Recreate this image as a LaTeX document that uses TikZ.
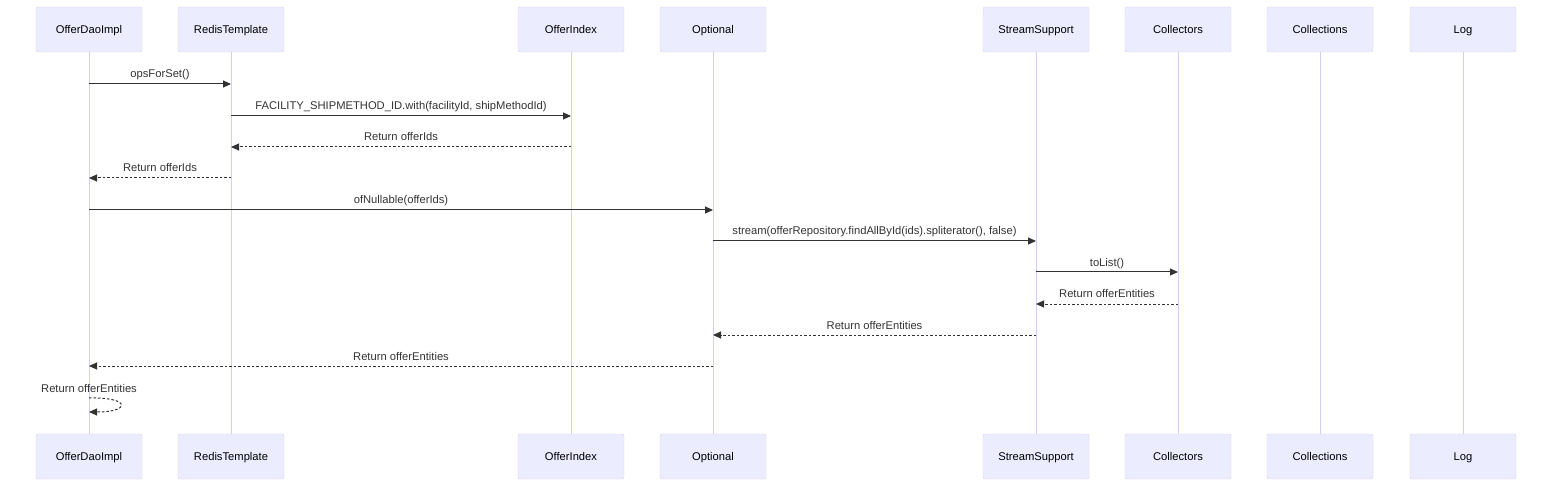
\documentclass[tikz,border=0pt]{standalone}
\usepackage{fontspec}
\setmainfont{Liberation Sans}
\usetikzlibrary{arrows.meta}
\definecolor{actfill}{HTML}{ECECFF}
\definecolor{actline}{HTML}{D8CDF3}
\definecolor{sigcol}{HTML}{333333}
\begin{document}
\begin{tikzpicture}[x=1pt,y=-1pt,inner sep=0pt,outer sep=0pt,
actor/.style={draw=actline,fill=actfill,rounded corners=2pt,minimum width=106pt,minimum height=45pt,text height=10pt,text depth=2pt,font=\fontsize{11.2}{14}\selectfont,text=black},
life/.style={draw=actline,line width=1pt},
msg/.style={draw=sigcol,line width=1pt,-{Triangle[length=8pt,width=7pt]}},
ret/.style={msg,dash pattern=on 2.5pt off 2pt},
lbl/.style={font=\fontsize{11.2}{14}\selectfont,text=sigcol,anchor=base}]
\useasboundingbox (0,0) rectangle (1568,494);
% lifelines
\foreach \x in {89,231,571,713,1036,1178,1320,1463}
  \draw[life] (\x,52) -- (\x,434);
% actors, top and bottom
\node[actor] (odT) at (89,29.5) {OfferDaoImpl};
\node[actor] (rtT) at (231,29.5) {RedisTemplate};
\node[actor] (oiT) at (571,29.5) {OfferIndex};
\node[actor] (opT) at (713,29.5) {Optional};
\node[actor] (ssT) at (1036,29.5) {StreamSupport};
\node[actor] (coT) at (1178,29.5) {Collectors};
\node[actor] (clT) at (1320,29.5) {Collections};
\node[actor] (lgT) at (1463,29.5) {Log};
\node[actor] (odB) at (89,456.5) {OfferDaoImpl};
\node[actor] (rtB) at (231,456.5) {RedisTemplate};
\node[actor] (oiB) at (571,456.5) {OfferIndex};
\node[actor] (opB) at (713,456.5) {Optional};
\node[actor] (ssB) at (1036,456.5) {StreamSupport};
\node[actor] (coB) at (1178,456.5) {Collectors};
\node[actor] (clB) at (1320,456.5) {Collections};
\node[actor] (lgB) at (1463,456.5) {Log};
% messages
\draw[msg] (odT |- 0,84) -- node[lbl,yshift=6pt] (m1) {opsForSet()} (rtT |- 0,84);
\draw[msg] (rtT |- 0,116) -- node[lbl,yshift=6pt] (m2) {FACILITY\_SHIPMETHOD\_ID.with(facilityId, shipMethodId)} (oiT |- 0,116);
\draw[ret] (oiT |- 0,147) -- node[lbl,yshift=6pt] (m3) {Return offerIds} (rtT |- 0,147);
\draw[ret] (rtT |- 0,178) -- node[lbl,yshift=6pt] (m4) {Return offerIds} (odT |- 0,178);
\draw[msg] (odT |- 0,210) -- node[lbl,yshift=6pt] (m5) {ofNullable(offerIds)} (opT |- 0,210);
\draw[msg] (opT |- 0,241) -- node[lbl,yshift=6pt] (m6) {stream(offerRepository.findAllById(ids).spliterator(), false)} (ssT |- 0,241);
\draw[msg] (ssT |- 0,272) -- node[lbl,yshift=6pt] (m7) {toList()} (coT |- 0,272);
\draw[ret] (coT |- 0,304) -- node[lbl,yshift=6pt] (m8) {Return offerEntities} (ssT |- 0,304);
\draw[ret] (ssT |- 0,335) -- node[lbl,yshift=6pt] (m9) {Return offerEntities} (opT |- 0,335);
\draw[ret] (opT |- 0,366) -- node[lbl,yshift=6pt] (m10) {Return offerEntities} (odT |- 0,366);
\node[lbl] (m11) at (89,392) {Return offerEntities};
\draw[ret] (odT |- 0,398) .. controls (131,397) and (131,412) .. (odT |- 0,412);
\end{tikzpicture}
\end{document}
